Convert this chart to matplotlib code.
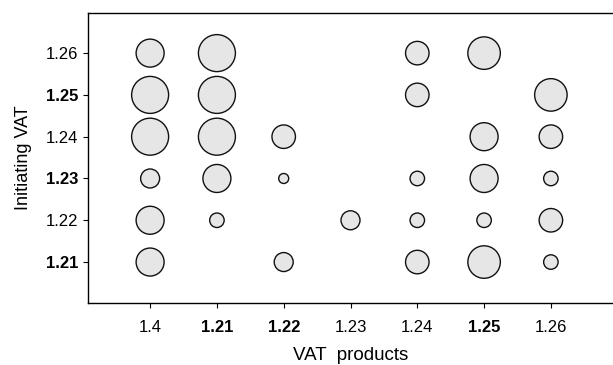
import matplotlib
matplotlib.use("Agg")
import matplotlib.pyplot as plt
import numpy as np

plt.rcParams["font.family"] = ["Liberation Sans", "DejaVu Sans"]

# category labels along each axis
x_labels = ["1.4", "1.21", "1.22", "1.23", "1.24", "1.25", "1.26"]
y_labels = ["1.21", "1.22", "1.23", "1.24", "1.25", "1.26"]
x_bold = ["1.21", "1.22", "1.25"]
y_bold = ["1.21", "1.23", "1.25"]

# counts per (x, y) cell; 0 = no bubble. rows follow y_labels
counts = {
    "1.4":  [5, 5, 3, 7, 7, 5],
    "1.21": [0, 2, 5, 7, 7, 7],
    "1.22": [3, 0, 1, 4, 0, 0],
    "1.23": [0, 3, 0, 0, 0, 0],
    "1.24": [4, 2, 2, 0, 4, 4],
    "1.25": [6, 2, 5, 5, 0, 6],
    "1.26": [2, 4, 2, 4, 6, 0],
}

xs, ys, ns = [], [], []
for i, xl in enumerate(x_labels):
    for j, n in enumerate(counts[xl]):
        if n > 0:
            xs.append(i)
            ys.append(j)
            ns.append(n)
ns = np.array(ns)

# bubble diameter in points grows with the count
diam_pt = (5.5 + 4.5 * ns) * 0.72
sizes = diam_pt ** 2

fig = plt.figure(figsize=(6.13, 3.65), dpi=100)
ax = fig.add_axes([88 / 613, 62 / 365, 1 - 88 / 613, 290 / 365])

ax.scatter(xs, ys, s=sizes, facecolor="#e6e6e6", edgecolor="#111111",
           linewidth=1.0, zorder=3)

ax.set_xlim(-0.93, 6.93)
ax.set_ylim(-0.98, 5.96)

ax.set_xticks(range(len(x_labels)))
ax.set_xticklabels(x_labels)
ax.set_yticks(range(len(y_labels)))
ax.set_yticklabels(y_labels)
for t in ax.get_xticklabels():
    if t.get_text() in x_bold:
        t.set_fontweight("bold")
for t in ax.get_yticklabels():
    if t.get_text() in y_bold:
        t.set_fontweight("bold")

ax.tick_params(axis="both", direction="out", length=3.6, width=0.8,
               labelsize=12, colors="black")
ax.tick_params(axis="x", pad=9)
ax.tick_params(axis="y", pad=3.5)
for side in ["left", "bottom", "top"]:
    ax.spines[side].set_linewidth(1.0)
    ax.spines[side].set_color("black")
ax.spines["right"].set_visible(False)

ax.set_xlabel("VAT  products", fontsize=13.5, labelpad=8.5)
ax.set_ylabel("Initiating VAT", fontsize=13, labelpad=10)

fig.savefig("out.png", dpi=100, facecolor="white")
